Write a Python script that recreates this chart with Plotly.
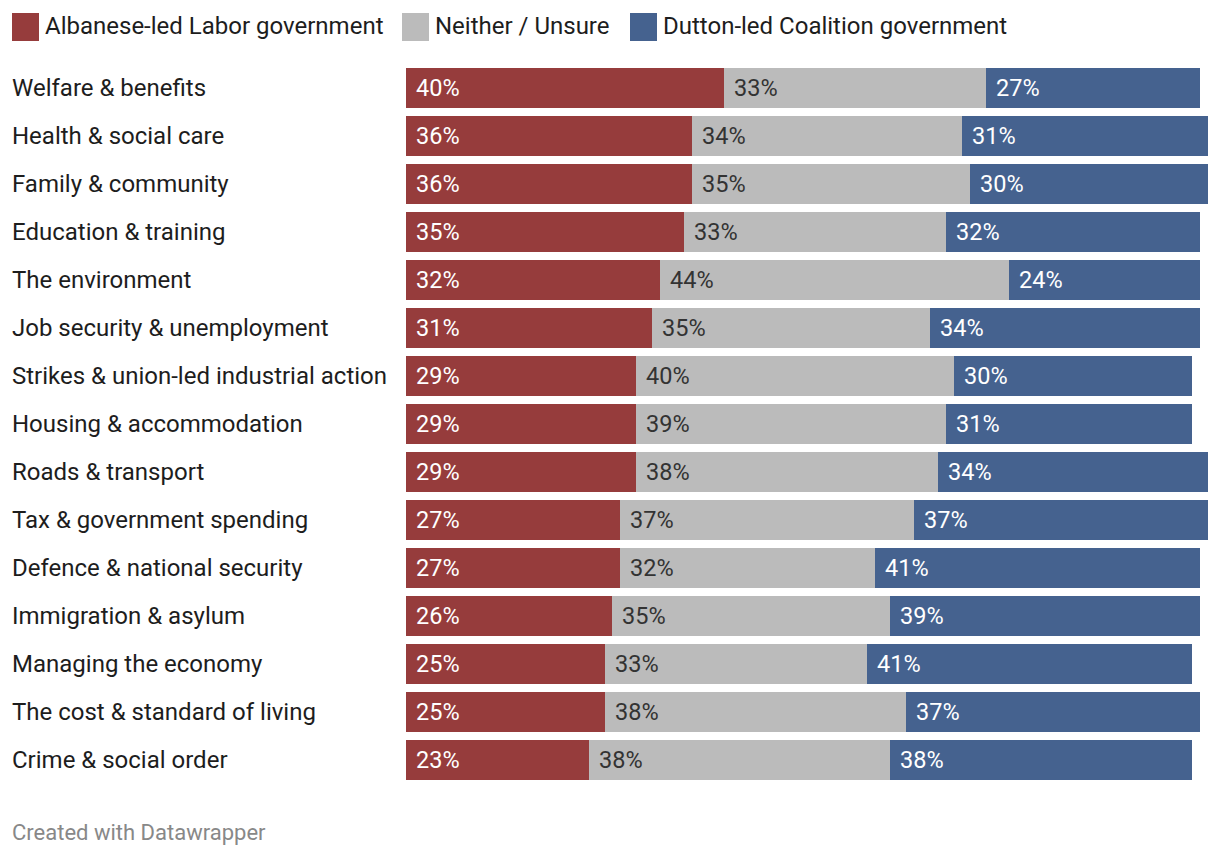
import plotly.graph_objects as go

categories = [
    "Welfare & benefits", "Health & social care", "Family & community",
    "Education & training", "The environment", "Job security & unemployment",
    "Strikes & union-led industrial action", "Housing & accommodation",
    "Roads & transport", "Tax & government spending", "Defence & national security",
    "Immigration & asylum", "Managing the economy", "The cost & standard of living",
    "Crime & social order",
]
labor = [40, 36, 36, 35, 32, 31, 29, 29, 29, 27, 27, 26, 25, 25, 23]
neither = [33, 34, 35, 33, 44, 35, 40, 39, 38, 37, 32, 35, 33, 38, 38]
coalition = [27, 31, 30, 32, 24, 34, 30, 31, 34, 37, 41, 39, 41, 37, 38]
series_names = ["Albanese-led Labor government", "Neither / Unsure", "Dutton-led Coalition government"]

colors = ["#963c3c", "#bbbbbb", "#45628f"]
text_colors = ["#ffffff", "#333333", "#ffffff"]
FONT = "Roboto"

OFF = 8  # page body margin
W, H = 1220 - OFF, 858 - OFF
L = 406 - OFF
R = W - (1208 - OFF)
T = 64 - OFF
B = H - (784 - OFF)
plot_w = W - L - R
plot_h = H - T - B

def px(xs):
    return (xs - OFF - L) / plot_w

def py(ys):
    return 1 - (ys - OFF - T) / plot_h

fig = go.Figure()
series = [labor, neither, coalition]
for name, vals, col in zip(series_names, series, colors):
    fig.add_trace(go.Bar(
        y=categories, x=vals, name=name, orientation="h",
        marker=dict(color=col, line=dict(width=0)),
        hoverinfo="skip", showlegend=False,
    ))

annotations = []
for i, cat in enumerate(categories):
    start = 0
    for s, vals in enumerate(series):
        annotations.append(dict(
            x=start, y=cat, xref="x", yref="y", text=f"{vals[i]}%",
            showarrow=False, xanchor="left", yanchor="middle", xshift=8,
            font=dict(family=FONT, size=23.5, color=text_colors[s]),
        ))
        start += vals[i]
    annotations.append(dict(
        x=px(10), y=cat, xref="paper", yref="y", text=cat,
        showarrow=False, xanchor="left", yanchor="middle",
        font=dict(family=FONT, size=24, color="#1d1d1d"),
    ))

shapes = []
legend_x = [12, 402, 630]
for name, col, lx in zip(series_names, colors, legend_x):
    shapes.append(dict(type="rect", xref="paper", yref="paper", x0=px(lx), x1=px(lx + 27),
                       y0=py(41), y1=py(13), fillcolor=col, line=dict(width=0), layer="above"))
    annotations.append(dict(
        x=px(lx + 31), y=py(26), xref="paper", yref="paper",
        text=name, showarrow=False, xanchor="left", yanchor="middle",
        font=dict(family=FONT, size=24, color="#1d1d1d"),
    ))

annotations.append(dict(
    x=px(10), y=py(832), xref="paper", yref="paper",
    text="Created with Datawrapper", showarrow=False, xanchor="left", yanchor="middle",
    font=dict(family=FONT, size=22, color="#888888"),
))

fig.update_layout(
    width=W, height=H, barmode="stack", bargap=8 / 48,
    margin=dict(l=L, r=R, t=T, b=B, pad=0),
    paper_bgcolor="white", plot_bgcolor="white",
    xaxis=dict(range=[0, 101], visible=False, fixedrange=True),
    yaxis=dict(autorange="reversed", showticklabels=False, showgrid=False,
               zeroline=False, showline=False, ticks="", fixedrange=True),
    annotations=annotations, shapes=shapes,
    font=dict(family=FONT),
)

fig.write_html("out.html", config={"displayModeBar": False})
